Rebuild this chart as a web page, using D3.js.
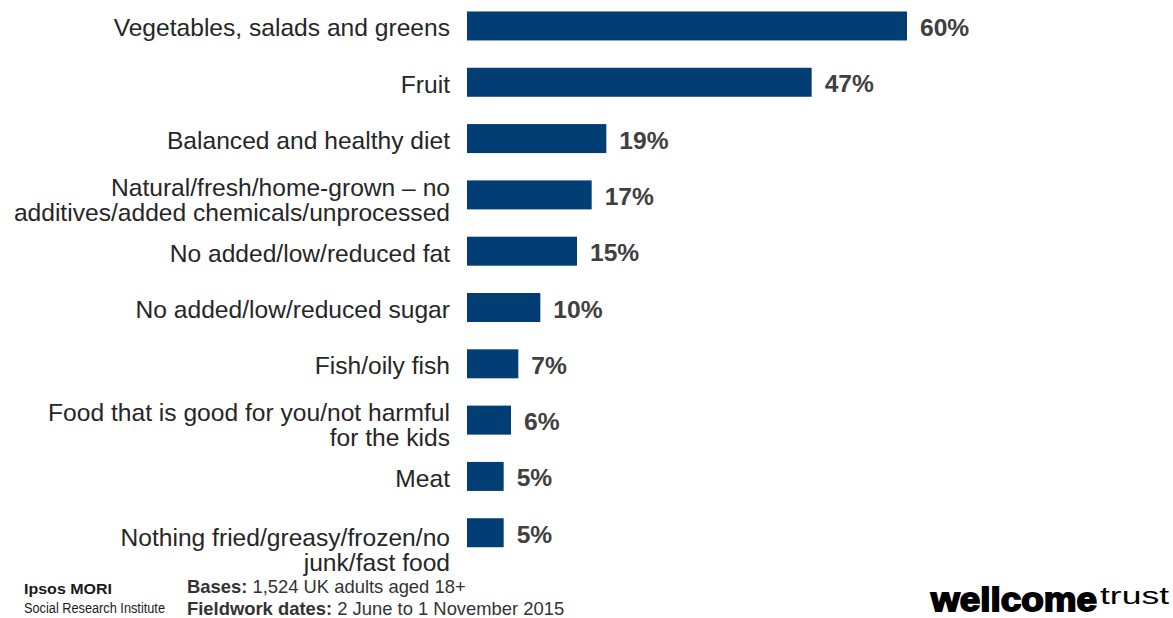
<!DOCTYPE html>
<html>
<head>
<meta charset="utf-8">
<script src="https://cdn.jsdelivr.net/npm/d3@7"></script>
<style>
  html, body { margin: 0; padding: 0; background: #ffffff; }
  svg { display: block; font-family: "Liberation Sans", Arial, sans-serif; }
</style>
</head>
<body>
<svg id="chart" width="1173" height="618"></svg>
<script>
// Foods mentioned as healthy, share of adults (%)
const categories = [
  ["Vegetables, salads and greens"],
  ["Fruit"],
  ["Balanced and healthy diet"],
  ["Natural/fresh/home-grown \u2013 no", "additives/added chemicals/unprocessed"],
  ["No added/low/reduced fat"],
  ["No added/low/reduced sugar"],
  ["Fish/oily fish"],
  ["Food that is good for you/not harmful", "for the kids"],
  ["Meat"],
  ["Nothing fried/greasy/frozen/no", "junk/fast food"]
];
const values = [60, 47, 19, 17, 15, 10, 7, 6, 5, 5];
const valueLabels = ["60%", "47%", "19%", "17%", "15%", "10%", "7%", "6%", "5%", "5%"];

const basesText = ["Bases:", " 1,524 UK adults aged 18+"];
const fieldworkText = ["Fieldwork dates:", " 2 June to 1 November 2015"];
const orgName = ["Ipsos MORI", "Social Research Institute"];
const funderName = ["wellcome", "trust"];

const svg = d3.select("#chart");
const keys = categories.map((c, i) => i);

const x = d3.scaleLinear().domain([0, 60]).range([467, 907]);
const y = d3.scaleBand().domain(keys).range([0.2, 558.5])
  .paddingInner(0.485).paddingOuter(0.2);

const barColor = "#023e73";
const labelColor = "#262626";
const valueColor = "#404040";
const fontSize = 24.6;
const lineGap = 24.8;

// bars
svg.append("g").selectAll("rect")
  .data(values)
  .join("rect")
  .attr("x", x(0))
  .attr("y", (d, i) => y(i))
  .attr("width", d => x(d) - x(0))
  .attr("height", y.bandwidth())
  .attr("fill", barColor);

// value labels
svg.append("g").selectAll("text")
  .data(values)
  .join("text")
  .attr("x", d => x(d) + 13)
  .attr("y", (d, i) => y(i) + y.bandwidth() / 2 + 10)
  .attr("font-size", fontSize)
  .attr("font-weight", "bold")
  .attr("fill", valueColor)
  .text((d, i) => valueLabels[i]);

// category labels (right-aligned, wrapped ones centred on their bar,
// the last wrapped label sits a little lower)
const catG = svg.append("g");
categories.forEach((lines, i) => {
  const cy = y(i) + y.bandwidth() / 2;
  let shift = lines.length > 1 ? 3.2 : 0;
  if (i === categories.length - 1) shift = 15.2;
  const first = cy + 10.5 - (lines.length - 1) * lineGap / 2 + shift;
  const t = catG.append("text")
    .attr("text-anchor", "end")
    .attr("font-size", fontSize)
    .attr("fill", labelColor);
  lines.forEach((ln, j) => {
    t.append("tspan").attr("x", 450).attr("y", first + j * lineGap).text(ln);
  });
});

// footer: organisation
svg.append("text").attr("x", 24).attr("y", 594)
  .attr("font-size", 15.5).attr("font-weight", "bold").attr("fill", "#1a1a1a")
  .attr("textLength", 88).attr("lengthAdjust", "spacingAndGlyphs")
  .text(orgName[0]);
svg.append("text").attr("x", 24).attr("y", 613)
  .attr("font-size", 14).attr("fill", "#1a1a1a")
  .attr("textLength", 141).attr("lengthAdjust", "spacingAndGlyphs")
  .text(orgName[1]);

// footer: bases and fieldwork
[[basesText, 593], [fieldworkText, 615]].forEach(([parts, yy]) => {
  const t = svg.append("text").attr("x", 187).attr("y", yy)
    .attr("font-size", 18.4).attr("fill", "#333333");
  t.append("tspan").attr("font-weight", "bold").text(parts[0]);
  t.append("tspan").text(parts[1]);
});

// footer: funder wordmark
svg.append("text").attr("x", 931).attr("y", 611)
  .attr("font-size", 34).attr("font-weight", "900").attr("fill", "#000")
  .attr("stroke", "#000").attr("stroke-width", 1.8)
  .attr("textLength", 166).attr("lengthAdjust", "spacingAndGlyphs")
  .text(funderName[0]);
svg.append("text").attr("x", 1100).attr("y", 604)
  .attr("font-size", 24).attr("fill", "#000")
  .attr("textLength", 69).attr("lengthAdjust", "spacingAndGlyphs")
  .text(funderName[1]);
</script>
</body>
</html>
